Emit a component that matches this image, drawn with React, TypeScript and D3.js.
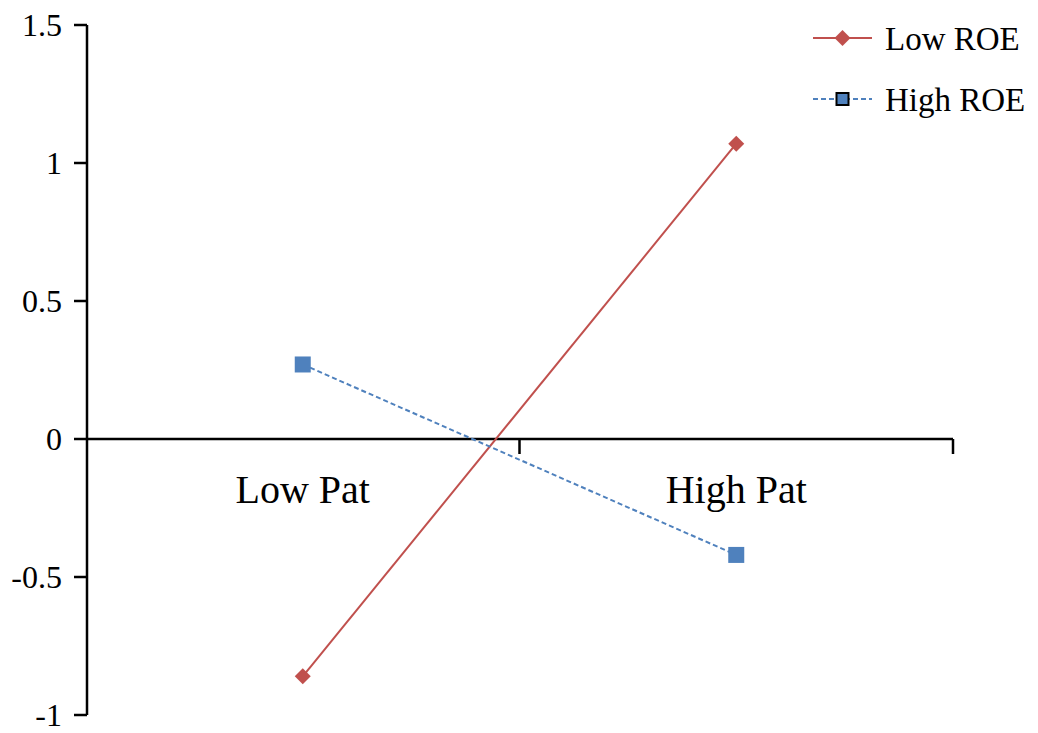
import React from "react";
import * as d3 from "d3";

const categories = ["Low Pat", "High Pat"];
const seriesNames = ["Low ROE", "High ROE"];
const lowRoe = [-0.86, 1.07];
const highRoe = [0.27, -0.42];
const yTicks = [1.5, 1, 0.5, 0, -0.5, -1];
const yTickLabels = ["1.5", "1", "0.5", "0", "-0.5", "-1"];

const W = 1038;
const H = 733;
const FONT = "'Liberation Serif', 'Times New Roman', serif";
const RED = "#C0504D";
const BLUE = "#4F81BD";

export default function App() {
  const y = d3.scaleLinear().domain([-1, 1.5]).range([715, 25]);
  const x = d3.scaleBand<string>().domain(categories).range([86, 953]);
  const cx = (c: string) => (x(c) as number) + x.bandwidth() / 2;
  const line = d3
    .line<number>()
    .x((_, i) => cx(categories[i]))
    .y((d) => y(d));
  const y0 = y(0);
  const series = [
    { name: seriesNames[0], values: lowRoe, color: RED, dash: undefined, marker: "diamond" },
    { name: seriesNames[1], values: highRoe, color: BLUE, dash: "5,3", marker: "square" },
  ];
  const marker = (m: string, px: number, py: number, color: string, legend: boolean, key: string) => {
    if (m === "diamond") {
      const s = 8;
      return (
        <path
          key={key}
          d={`M${px},${py - s}L${px + s},${py}L${px},${py + s}L${px - s},${py}Z`}
          fill={color}
        />
      );
    }
    const s = legend ? 6 : 8;
    return (
      <rect
        key={key}
        x={px - s}
        y={py - s}
        width={2 * s}
        height={2 * s}
        fill={color}
        stroke={legend ? "#000" : "none"}
        strokeWidth={legend ? 2 : 0}
      />
    );
  };
  return (
    <svg width={W} height={H} style={{ position: "absolute", left: 0, top: 0, background: "#fff" }}>
      {/* y axis */}
      <line x1={87} x2={87} y1={y(1.5)} y2={y(-1)} stroke="#000" strokeWidth={2.5} />
      {yTicks.map((t, i) => (
        <g key={t}>
          <line x1={74} x2={87} y1={y(t)} y2={y(t)} stroke="#000" strokeWidth={2.5} />
          <text
            x={62}
            y={y(t)}
            dy="0.35em"
            textAnchor="end"
            fontFamily={FONT}
            fontSize={32}
            fill="#000"
          >
            {yTickLabels[i]}
          </text>
        </g>
      ))}
      {/* x axis */}
      <line x1={86} x2={953} y1={y0} y2={y0} stroke="#000" strokeWidth={2.5} />
      {[...categories.map((c) => x(c) as number).slice(1), 953].map((tx, i) => (
        <line key={i} x1={tx} x2={tx} y1={y0} y2={y0 + 15} stroke="#000" strokeWidth={2.5} />
      ))}
      {categories.map((c) => (
        <text key={c} x={cx(c)} y={503} textAnchor="middle" fontFamily={FONT} fontSize={40} fill="#000">
          {c}
        </text>
      ))}
      {/* series */}
      {series.map((s) => (
        <g key={s.name}>
          <path d={line(s.values) || ""} fill="none" stroke={s.color} strokeWidth={2} strokeDasharray={s.dash} />
          {s.values.map((v, i) => marker(s.marker, cx(categories[i]), y(v), s.color, false, s.name + i))}
        </g>
      ))}
      {/* legend */}
      {series.map((s, i) => {
        const ly = 38 + i * 61;
        return (
          <g key={"lg" + s.name}>
            <line x1={813} x2={872} y1={ly} y2={ly} stroke={s.color} strokeWidth={2} strokeDasharray={s.dash} />
            {marker(s.marker, 842.5, ly, s.color, true, "lm" + i)}
            <text x={885} y={ly + 12} fontFamily={FONT} fontSize={33} fill="#000">
              {s.name}
            </text>
          </g>
        );
      })}
    </svg>
  );
}
